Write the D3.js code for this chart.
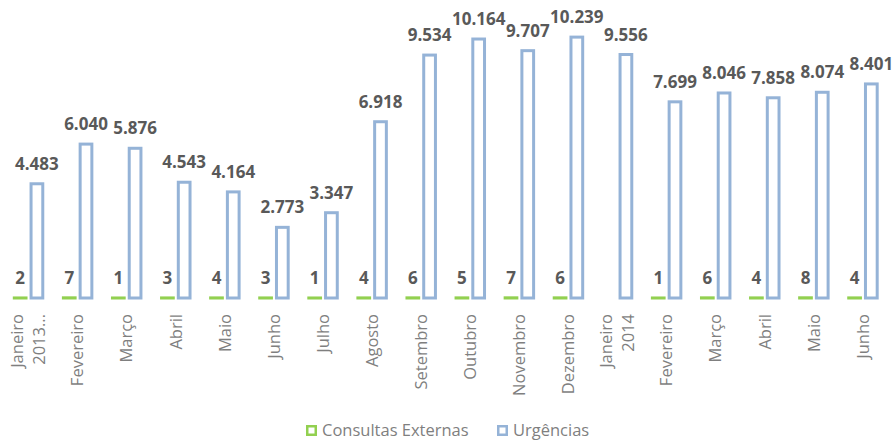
<!DOCTYPE html>
<html>
<head>
<meta charset="utf-8">
<script src="https://cdn.jsdelivr.net/npm/d3@7"></script>
<style>
  body { margin:0; background:#fff; }
  svg { display:block; font-family: "Open Sans", Lato, sans-serif; }
</style>
</head>
<body>
<svg id="chart" width="896" height="441"></svg>
<script>
const meses = ['Janeiro|2013...','Fevereiro','Março','Abril','Maio','Junho','Julho','Agosto','Setembro','Outubro','Novembro','Dezembro','Janeiro|2014','Fevereiro','Março','Abril','Maio','Junho'];
const consultas = [2,7,1,3,4,3,1,4,6,5,7,6,null,1,6,4,8,4];
const urgencias = [4483,6040,5876,4543,4164,2773,3347,6918,9534,10164,9707,10239,9556,7699,8046,7858,8074,8401];
const series = ['Consultas Externas','Urgências'];

const size = { width:896, height:441 },
      plot = { left:4, right:887.5, base:298 },
      cores = { c:'#92d050', u:'#95b3d7' };

const fmt = d3.formatLocale({decimal:',', thousands:'.', grouping:[3], currency:['','']}).format(',d');

const svg = d3.select('#chart');
const idx = d3.range(meses.length);

const x0 = d3.scaleBand().domain(idx).range([plot.left, plot.right]).paddingInner(0.42).paddingOuter(0.21);
const x1 = d3.scaleBand().domain([0,1]).range([0, x0.bandwidth()]).paddingInner(0.3);
const y = d3.scaleLinear().domain([0,12000]).range([plot.base, plot.base - 0.02548*12000]);

const g = svg.append('g');

// consultas externas (quase invisiveis)
const gc = g.append('g').selectAll('g').data(idx.filter(i => consultas[i] != null)).join('g');
gc.append('rect')
  .attr('x', i => x0(i) + x1(0))
  .attr('y', i => y(consultas[i]))
  .attr('width', x1.bandwidth())
  .attr('height', i => y(0) - y(consultas[i]))
  .attr('fill', '#fff').attr('stroke', cores.c).attr('stroke-width', 3);
gc.append('text')
  .attr('x', i => x0(i) + x1(0) + x1.bandwidth()/2)
  .attr('y', i => y(consultas[i]) - 14)
  .attr('text-anchor','middle').attr('font-weight','bold').attr('font-size',17).attr('fill','#595959')
  .text(i => fmt(consultas[i]));

// urgencias
const gu = g.append('g').selectAll('g').data(idx).join('g');
gu.append('rect')
  .attr('x', i => x0(i) + x1(1))
  .attr('y', i => y(urgencias[i]))
  .attr('width', x1.bandwidth())
  .attr('height', i => y(0) - y(urgencias[i]))
  .attr('fill', '#fff').attr('stroke', cores.u).attr('stroke-width', 3);
gu.append('text')
  .attr('x', i => x0(i) + x1(1) + x1.bandwidth()/2)
  .attr('y', i => y(urgencias[i]) - 14)
  .attr('text-anchor','middle').attr('font-weight','bold').attr('font-size',17).attr('fill','#595959')
  .text(i => fmt(urgencias[i]));

// eixo x, rotulos rodados
const lab = g.append('g').selectAll('text').data(idx).join('text')
  .attr('transform', i => `translate(${x0(i) + x0.bandwidth()/2},314) rotate(-90)`)
  .attr('text-anchor','end').attr('font-size',16.5).attr('fill','#7f7f7f');
lab.each(function(i){
  const linhas = meses[i].split('|');
  const t = d3.select(this);
  linhas.forEach((l,k) => {
    t.append('tspan').attr('x',0)
      .attr('dy', linhas.length == 1 ? '0.35em' : (k == 0 ? '-0.32em' : '1.3em'))
      .text(l);
  });
});

// legenda
const leg = svg.append('g').attr('transform','translate(0,430)');
const legX = [306, 497];
series.forEach((s,k) => {
  leg.append('rect').attr('x', legX[k]+1.25).attr('y', -3.75).attr('width', 8.5).attr('height', 8.5)
    .attr('fill','#fff').attr('stroke', k ? cores.u : cores.c).attr('stroke-width', 2.5);
  leg.append('text').attr('x', legX[k] + 16).attr('y', 0).attr('dy','0.35em')
    .attr('font-size',16.5).attr('fill','#7f7f7f').text(s);
});
</script>
</body>
</html>
